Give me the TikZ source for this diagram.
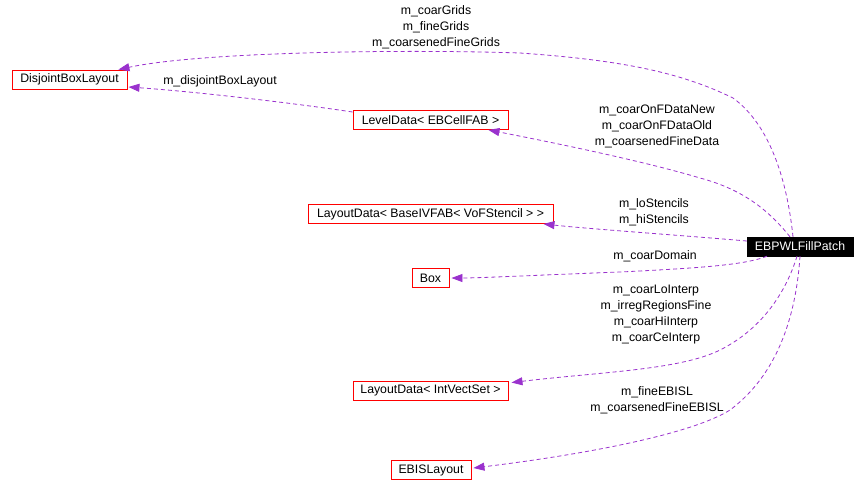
\documentclass[tikz,border=0pt]{standalone}
\usepackage{fontspec}
\setmainfont{Liberation Sans}
\usetikzlibrary{arrows.meta,calc}
\definecolor{edgecol}{HTML}{9A32CD}
\begin{document}
\begin{tikzpicture}[x=1pt,y=-1pt,
  font=\fontsize{12.3}{16}\selectfont,
  cls/.style={draw=red,line width=0.9pt,inner sep=0pt,minimum height=19pt,text=black},
  main/.style={fill=black,draw=black,inner sep=0pt,minimum height=19pt,text=white},
  lbl/.style={align=center,inner sep=0pt,text=black},
  edge/.style={draw=edgecol,line width=0.8pt,dash pattern=on 4pt off 3pt,
    -{Triangle[length=11pt,width=8pt,fill=edgecol]}}]
\useasboundingbox (0,0) rectangle (866,496);
% nodes
\node[cls,minimum width=115pt] (D) at (69.5,79.5) {DisjointBoxLayout};
\node[cls,minimum width=155pt] (L) at (430.5,120) {LevelData< EBCellFAB >};
\node[cls,minimum width=245pt] (LB) at (430.5,214) {LayoutData< BaseIVFAB< VoFStencil > >};
\node[cls,minimum width=37pt] (B) at (430.5,278) {Box};
\node[main,minimum width=106pt] (E) at (800,246.5) {EBPWLFillPatch};
\node[cls,minimum width=155pt] (LI) at (430.5,390.5) {LayoutData< IntVectSet >};
\node[cls,minimum width=80pt] (EB) at (431,470) {EBISLayout};
% labels
\node[lbl] (t1) at (436,27) {m\_coarGrids\\m\_fineGrids\\m\_coarsenedFineGrids};
\node[lbl] (t2) at (220,81) {m\_disjointBoxLayout};
\node[lbl] (t3) at (657,126.3) {m\_coarOnFDataNew\\m\_coarOnFDataOld\\m\_coarsenedFineData};
\node[lbl] (t4) at (654,212) {m\_loStencils\\m\_hiStencils};
\node[lbl] (t5) at (655,256.3) {m\_coarDomain};
\node[lbl] (t6) at (656,315) {m\_coarLoInterp\\m\_irregRegionsFine\\m\_coarHiInterp\\m\_coarCeInterp};
\node[lbl] (t7) at (657,400.5) {m\_fineEBISL\\m\_coarsenedFineEBISL};
% edges
\draw[edge] ($(E.north)+(-7,0)$) .. controls (787,180) and (770,125) .. (733,98)
  .. controls (680,72) and (620,60) .. (520,53)
  .. controls (400,49) and (200,52) .. ($(D.north east)+(-9,0)$);
\draw[edge] ($(L.west)+(0,-8)$) .. controls (300,104) and (200,92) .. ($(D.east)+(1,7.5)$);
\draw[edge] ($(E.north)+(-10,0)$) .. controls (770,212) and (745,190) .. (700,178)
  .. controls (640,160) and (540,140) .. ($(L.south east)+(-20,0)$);
\draw[edge] ($(E.west)+(0,-5.5)$) .. controls (690,236) and (590,229) .. ($(LB.south east)+(-10,0)$);
\draw[edge] ($(E.south)+(-33,0)$) .. controls (745,265) and (700,268) .. (620,272)
  .. controls (540,275) and (480,278) .. ($(B.east)+(2,0)$);
\draw[edge] ($(E.south)+(-3,0)$) .. controls (785,295) and (760,330) .. (720,350)
  .. controls (680,370) and (600,372) .. ($(LI.north east)+(3,2)$);
\draw[edge] (E.south) .. controls (795,330) and (770,380) .. (730,410)
  .. controls (690,435) and (580,455) .. ($(EB.east)+(2,-2)$);
\end{tikzpicture}
\end{document}
